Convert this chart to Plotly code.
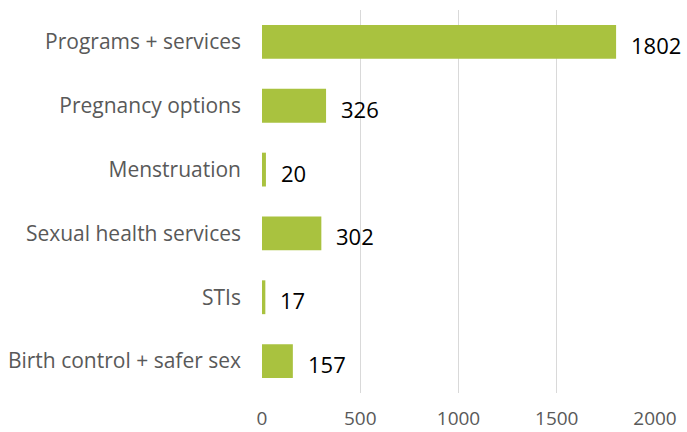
import plotly.graph_objects as go

categories = ["Birth control + safer sex", "STIs", "Sexual health services",
              "Menstruation", "Pregnancy options", "Programs + services"]
values = [157, 17, 302, 20, 326, 1802]
tick_vals = [0, 500, 1000, 1500, 2000]
tick_text = ["0", "500", "1000", "1500", "2000"]

FONT = "Open Sans, Liberation Sans, sans-serif"

fig = go.Figure()
fig.add_trace(go.Bar(
    y=categories, x=values, orientation="h",
    marker=dict(color="#a9c23f", line=dict(width=0)),
    hoverinfo="skip",
))
for c, v in zip(categories, values):
    fig.add_annotation(x=v, y=c, text=str(v), showarrow=False,
                       xanchor="left", xshift=13, yshift=-3,
                       font=dict(size=22, color="#000000", family=FONT))

fig.update_layout(
    width=687, height=432,
    margin=dict(l=262, r=32, t=10, b=39, autoexpand=False),
    paper_bgcolor="white", plot_bgcolor="white",
    bargap=0.47, showlegend=False,
    font=dict(family=FONT, size=16, color="#595959"),
    xaxis=dict(range=[0, 2000], tickvals=tick_vals, ticktext=tick_text,
               showgrid=True, gridcolor="#d9d9d9", gridwidth=1.3,
               zeroline=False, showline=False, ticks="", automargin=False,
               ticklabelstandoff=12, tickfont=dict(size=19, color="#595959")),
    yaxis=dict(showgrid=False, zeroline=False, showline=False, ticks="",
               automargin=False,
               ticklabelstandoff=20, tickfont=dict(size=21, color="#595959")),
)
fig.write_html("out.html")
